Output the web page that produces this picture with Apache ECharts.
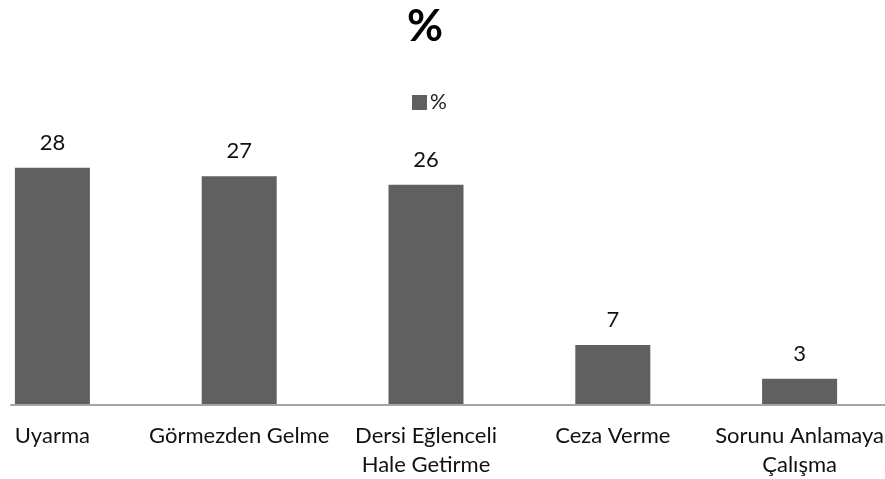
<!DOCTYPE html>
<html><head><meta charset="utf-8">
<script src="https://cdn.jsdelivr.net/npm/echarts@6/dist/echarts.min.js"></script>
<style>html,body{margin:0;padding:0;background:#fff;overflow:hidden;width:885px;height:479px}
#c{position:absolute;left:-41px;top:0;width:934px;height:479px}</style>
</head><body><div id="c"></div>
<script>
const categories = ['Uyarma', 'Görmezden Gelme', 'Dersi Eğlenceli\nHale Getirme', 'Ceza Verme', 'Sorunu Anlamaya\nÇalışma'];
const values = [28, 27, 26, 7, 3];
const seriesName = '%';
const FONT = 'Lato';
const chart = echarts.init(document.getElementById('c'));
chart.setOption({
  animation: false,
  title: { text: '%', left: 461, top: 0, textAlign: 'center',
    textStyle: { fontFamily: FONT, fontSize: 44, fontWeight: 'bold', color: '#000' } },
  legend: { data: [seriesName], left: 448, top: 87, itemWidth: 15, itemHeight: 15, itemGap: 4,
    icon: 'rect', textStyle: { fontFamily: FONT, fontSize: 21, color: '#222', padding: [0,0,0,-2] } },
  grid: [
    { left: 0, right: 0, top: 151, bottom: 74 },
    { left: 52, right: 8, top: 151, bottom: 74 }
  ],
  xAxis: [
    { type: 'category', gridIndex: 0, data: categories,
      axisLine: { show: false }, axisTick: { show: false },
      axisLabel: { fontFamily: FONT, fontSize: 22, color: '#111', margin: 17, lineHeight: 29, interval: 0 } },
    { type: 'category', gridIndex: 1, data: [''], axisLabel: { show: false }, axisTick: { show: false },
      axisLine: { show: true, lineStyle: { color: '#a6a6a6', width: 2 } } }
  ],
  yAxis: [
    { type: 'value', gridIndex: 0, min: 0, max: 30, show: false, splitLine: { show: false } },
    { type: 'value', gridIndex: 1, min: 0, max: 30, show: false, splitLine: { show: false } }
  ],
  series: [{
    name: seriesName, type: 'bar', xAxisIndex: 0, yAxisIndex: 0, data: values, barWidth: 75,
    itemStyle: { color: '#606060' },
    label: { show: true, position: 'top', distance: 14, fontFamily: FONT, fontSize: 22, color: '#111' }
  }]
});
</script></body></html>
